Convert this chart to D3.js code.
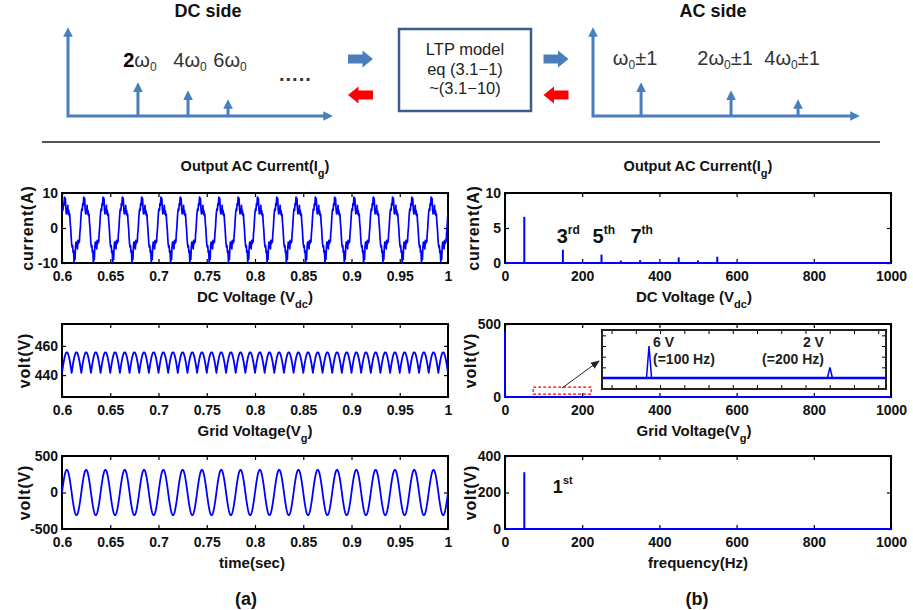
<!DOCTYPE html>
<html>
<head>
<meta charset="utf-8">
<script src="https://cdn.jsdelivr.net/npm/d3@7/dist/d3.min.js"></script>
<style>
  body { margin: 0; background: #fff; }
  svg { font-family: 'Liberation Sans', Arial, sans-serif; }
</style>
</head>
<body>
<script>
// ---------- data ----------
const timeTicks = [0.6, 0.65, 0.7, 0.75, 0.8, 0.85, 0.9, 0.95, 1];
const freqTicks = [0, 200, 400, 600, 800, 1000];

// one 20 ms period of output current Ig (A), samples 0.5 ms apart
const currentCycle = [4.5, 5.5, 5, 7, 6.5, 8.8, 7.5, 8.5, 5.5, 4, 5.5, 4.5, 6.5, 4, 5, 3.5, 4, 1.5, 0, -2.5,
  -4.5, -5.5, -5, -7, -6.5, -9.8, -7.5, -9, -5.5, -4, -5.5, -4, -6, -3.5, -4.5, -3.5, -4, -1.5, 0, 2.5];
// one 10 ms period of DC link voltage (V), samples 0.5 ms apart
const dcCycle = [441.6, 443.8, 445.9, 448, 449.8, 451.5, 452.9, 454.1, 454.9, 455.4,
  455.6, 455.4, 454.9, 454.1, 452.9, 451.5, 449.8, 448, 445.9, 443.8];
// one 20 ms period of grid voltage (V), samples 0.5 ms apart
const gridCycle = [0, 49, 96, 141, 183, 220, 252, 277, 296, 307, 311, 307, 296, 277, 252, 220, 183, 141, 96, 49,
  0, -49, -96, -141, -183, -220, -252, -277, -296, -307, -311, -307, -296, -277, -252, -220, -183, -141, -96, -49];

// spectra (Hz, amplitude)
const currentFreq = [50, 150, 250, 300, 350, 450, 500, 550];
const currentAmp = [6.6, 1.9, 1.2, 0.35, 0.4, 0.8, 0.35, 0.9];
const dcFreq = [0, 50, 100, 200, 350, 500, 550];
const dcAmp = [449, 1, 6, 2, 1, 2, 1];
const gridFreq = [50];
const gridAmp = [311];

// schematic spectra on top (relative position, relative height)
const dcSideLabels = ['2', '4', '6'];
const dcSidePos = [0.264, 0.453, 0.604];
const acSideLabels = ['', '2', '4'];
const acSidePos = [0.18, 0.517, 0.768];
const sideHeights = [0.38, 0.29, 0.19];

// ---------- drawing ----------
const svgWidth = 913, svgHeight = 610;
const blue = '#4a7ebb', lineBlue = '#0000ff';
const svg = d3.select('body').append('svg')
  .attr('width', svgWidth)
  .attr('height', svgHeight);
const defs = svg.append('defs');

function marker(id, color, size, refX) {
  defs.append('marker')
    .attr('id', id)
    .attr('viewBox', '0 0 10 10')
    .attr('refX', refX).attr('refY', 5)
    .attr('markerWidth', size).attr('markerHeight', size)
    .attr('orient', 'auto-start-reverse')
    .append('path')
    .attr('d', 'M0,0L10,5L0,10z')
    .attr('fill', color);
}
marker('headBlue', blue, 3.2, 6);
defs.append('marker')
  .attr('id', 'headBlack')
  .attr('viewBox', '0 0 10 10')
  .attr('refX', 9).attr('refY', 5)
  .attr('markerUnits', 'userSpaceOnUse')
  .attr('markerWidth', 9).attr('markerHeight', 9)
  .attr('orient', 'auto')
  .append('path').attr('d', 'M0,1L10,5L0,9z').attr('fill', '#222');

function sketch(title, titleX, x0, x1, pos, labels, ac) {
  const sx = d3.scaleLinear().domain([0, 1]).range([x0, x1]);
  const sy = d3.scaleLinear().domain([0, 1]).range([116, 27]);
  const g = svg.append('g');

  g.append('text').text(title)
    .attr('x', titleX).attr('y', 17)
    .attr('text-anchor', 'middle')
    .attr('font-size', 18).attr('font-weight', 'bold').attr('fill', '#111');

  g.append('path')
    .attr('d', `M${sx(0)},${sy(1) + 4}L${sx(0)},${sy(0)}L${sx(1) - 4},${sy(0)}`)
    .attr('fill', 'none').attr('stroke', blue).attr('stroke-width', 3)
    .attr('marker-start', 'url(#headBlue)').attr('marker-end', 'url(#headBlue)');

  g.selectAll('line.spike')
    .data(d3.zip(pos, sideHeights))
    .join('line')
    .attr('x1', d => sx(d[0])).attr('x2', d => sx(d[0]))
    .attr('y1', sy(0)).attr('y2', d => sy(d[1]) + 4)
    .attr('stroke', blue).attr('stroke-width', 3)
    .attr('marker-end', 'url(#headBlue)');

  const t = g.selectAll('text.lab')
    .data(d3.zip(pos, labels))
    .join('text')
    .attr('x', d => sx(d[0]) + (ac ? -6 : 2))
    .attr('y', ac ? 65 : 67)
    .attr('text-anchor', 'middle')
    .attr('font-size', 20).attr('fill', '#333');
  t.append('tspan').text(d => d[1]).attr('font-weight', (d, i) => (!ac && i === 0) ? 'bold' : null)
    .attr('fill', (d, i) => (!ac && i === 0) ? '#000' : null);
  t.append('tspan').text('ω');
  t.append('tspan').text('0').attr('font-size', 12).attr('dy', 4);
  if (ac) t.append('tspan').text('±1').attr('dy', -4);
  return g;
}

function fatArrow(cx, cy, dir, color) {
  const pts = [[-12.5, -4.5], [2, -4.5], [2, -8.5], [12.5, 0], [2, 8.5], [2, 4.5], [-12.5, 4.5]];
  svg.append('path')
    .attr('d', d3.line()(pts.map(p => [cx + dir * p[0], cy + p[1]])) + 'Z')
    .attr('fill', color);
}

function topDiagram() {
  sketch('DC side', 208, 68, 333, dcSidePos, dcSideLabels, false);
  sketch('AC side', 713, 593, 860, acSidePos, acSideLabels, true);

  svg.append('text').text('.....')
    .attr('x', 279).attr('y', 81)
    .attr('font-size', 20).attr('font-weight', 'bold').attr('letter-spacing', 1).attr('fill', '#333');

  fatArrow(360.5, 59, 1, blue);
  fatArrow(360.5, 95, -1, '#ff0000');
  fatArrow(556, 59, 1, blue);
  fatArrow(556, 95, -1, '#ff0000');

  svg.append('rect')
    .attr('x', 399).attr('y', 29).attr('width', 132).attr('height', 82)
    .attr('fill', '#fff').attr('stroke', '#385d8a').attr('stroke-width', 2.5);
  svg.selectAll('text.box')
    .data(['LTP model', 'eq (3.1−1)', '~(3.1−10)'])
    .join('text')
    .attr('x', 465).attr('y', (d, i) => 55 + i * 19.5)
    .attr('text-anchor', 'middle')
    .attr('font-size', 16.5).attr('fill', '#222')
    .text(d => d);

  svg.append('line')
    .attr('x1', 42).attr('x2', 880).attr('y1', 142).attr('y2', 142)
    .attr('stroke', '#555').attr('stroke-width', 2);
}

let clipCount = 0;
function panel(o) {
  const x = d3.scaleLinear().domain(o.xDomain).range(o.xRange);
  const y = d3.scaleLinear().domain(o.yDomain).range([o.yRange[1], o.yRange[0]]);
  const g = svg.append('g');
  const clipId = 'clip' + (clipCount++);
  defs.append('clipPath').attr('id', clipId).append('rect')
    .attr('x', o.xRange[0]).attr('y', o.yRange[0])
    .attr('width', o.xRange[1] - o.xRange[0]).attr('height', o.yRange[1] - o.yRange[0]);

  const style = sel => sel
    .attr('font-family', "'Liberation Sans', Arial, sans-serif")
    .attr('font-size', 14).attr('font-weight', 'bold')
    .call(s => s.select('.domain').remove())
    .call(s => s.selectAll('.tick line').attr('stroke', '#000').attr('stroke-width', 1.2))
    .call(s => s.selectAll('.tick text').attr('fill', '#111'));

  g.append('g').attr('transform', `translate(0,${o.yRange[1]})`)
    .call(d3.axisBottom(x).tickValues(o.xTicks).tickFormat(d => String(d))
      .tickSizeInner(-4).tickSizeOuter(0).tickPadding(8))
    .call(style);
  g.append('g').attr('transform', `translate(0,${o.yRange[0]})`)
    .call(d3.axisTop(x).tickValues(o.xTicks).tickFormat('').tickSizeInner(-4).tickSizeOuter(0))
    .call(style);
  g.append('g').attr('transform', `translate(${o.xRange[0]},0)`)
    .call(d3.axisLeft(y).tickValues(o.yTicks).tickFormat(d => String(d))
      .tickSizeInner(-4).tickSizeOuter(0).tickPadding(4))
    .call(style);
  g.append('g').attr('transform', `translate(${o.xRange[1]},0)`)
    .call(d3.axisRight(y).tickValues(o.yTicks).tickFormat('').tickSizeInner(-4).tickSizeOuter(0))
    .call(style);

  g.append('rect')
    .attr('x', o.xRange[0]).attr('y', o.yRange[0])
    .attr('width', o.xRange[1] - o.xRange[0]).attr('height', o.yRange[1] - o.yRange[0])
    .attr('fill', 'none').attr('stroke', '#000').attr('stroke-width', 2);

  const cy = (o.yRange[0] + o.yRange[1]) / 2;
  g.append('text').text(o.yLabel)
    .attr('transform', `translate(${o.yLabelX},${cy}) rotate(-90)`)
    .attr('dy', '0.35em').attr('text-anchor', 'middle')
    .attr('font-size', 16).attr('font-weight', 'bold').attr('letter-spacing', 0.8).attr('fill', '#111');

  const plot = g.append('g').attr('clip-path', `url(#${clipId})`);
  return { x, y, g, plot };
}

function tile(cycle, period, start, count) {
  const dt = period / cycle.length;
  const pts = [];
  for (let p = 0; p < count; p++) {
    cycle.forEach((v, i) => pts.push({ t: start + p * period + i * dt, v }));
  }
  pts.push({ t: start + count * period, v: cycle[0] });
  return pts;
}

function waveform(p, series, width) {
  p.plot.append('path').datum(series)
    .attr('d', d3.line().x(d => p.x(d.t)).y(d => p.y(d.v)))
    .attr('fill', 'none').attr('stroke', lineBlue).attr('stroke-width', width)
    .attr('stroke-linejoin', 'round');
}

function spectrum(p, freq, amp) {
  p.g.append('line')
    .attr('x1', p.x(0)).attr('x2', p.x(1000))
    .attr('y1', p.y(0)).attr('y2', p.y(0))
    .attr('stroke', lineBlue).attr('stroke-width', 2);
  p.g.selectAll('line.spike')
    .data(d3.zip(freq, amp))
    .join('line')
    .attr('x1', d => p.x(d[0])).attr('x2', d => p.x(d[0]))
    .attr('y1', p.y(0)).attr('y2', d => p.y(d[1]))
    .attr('stroke', lineBlue).attr('stroke-width', 2);
}

function label(text, sub, x, y, size, after) {
  const t = svg.append('text')
    .attr('x', x).attr('y', y).attr('text-anchor', 'middle')
    .attr('font-size', size || 15).attr('font-weight', 'bold').attr('fill', '#111')
    .text(text);
  if (sub) {
    t.append('tspan').text(sub).attr('dy', 6).attr('font-size', 11);
    t.append('tspan').text(after || ')').attr('dy', -6);
  }
}

function superLabel(p, base, sup, f, v, size) {
  const t = svg.append('text')
    .attr('x', p.x(f)).attr('y', p.y(v))
    .attr('font-size', size).attr('font-weight', 'bold').attr('fill', '#111')
    .text(base);
  t.append('tspan').text(sup).attr('font-size', size * 0.6).attr('dy', -size * 0.45);
}

function charts() {
  const leftX = [62, 448], rightX = [505, 891];
  const rows = [[193, 263], [324, 397], [456, 529]];

  const cur = panel({ xDomain: [0.6, 1], xRange: leftX, yDomain: [-10, 10], yRange: rows[0],
    xTicks: timeTicks, yTicks: [-10, 0, 10], yLabel: 'current(A)', yLabelX: 27 });
  waveform(cur, tile(currentCycle, 0.02, 0.6, 20), 1.7);

  const dc = panel({ xDomain: [0.6, 1], xRange: leftX, yDomain: [425, 475], yRange: rows[1],
    xTicks: timeTicks, yTicks: [440, 460], yLabel: 'volt(V)', yLabelX: 24 });
  waveform(dc, tile(dcCycle, 0.01, 0.6, 40), 1.8);

  const grid = panel({ xDomain: [0.6, 1], xRange: leftX, yDomain: [-500, 500], yRange: rows[2],
    xTicks: timeTicks, yTicks: [-500, 0, 500], yLabel: 'volt(V)', yLabelX: 24 });
  waveform(grid, tile(gridCycle, 0.02, 0.6, 20), 1.8);

  const curF = panel({ xDomain: [0, 1000], xRange: rightX, yDomain: [0, 10], yRange: rows[0],
    xTicks: freqTicks, yTicks: [0, 5, 10], yLabel: 'current(A)', yLabelX: 473 });
  spectrum(curF, currentFreq, currentAmp);
  superLabel(curF, '3', 'rd', 134, 2.8, 20);
  superLabel(curF, '5', 'th', 227, 2.8, 20);
  superLabel(curF, '7', 'th', 325, 2.8, 20);

  const dcF = panel({ xDomain: [0, 1000], xRange: rightX, yDomain: [0, 500], yRange: rows[1],
    xTicks: freqTicks, yTicks: [0, 500], yLabel: 'volt(V)', yLabelX: 470 });
  spectrum(dcF, dcFreq, dcAmp);

  const gridF = panel({ xDomain: [0, 1000], xRange: rightX, yDomain: [0, 400], yRange: rows[2],
    xTicks: freqTicks, yTicks: [0, 200, 400], yLabel: 'volt(V)', yLabelX: 470 });
  spectrum(gridF, gridFreq, gridAmp);
  superLabel(gridF, '1', 'st', 124, 200, 18);

  // zoomed inset of the DC voltage spectrum
  const xi = d3.scaleLinear().domain([74, 231]).range([602, 886]);
  const yi = d3.scaleLinear().domain([-2.06, 9]).range([389, 330]);
  const inset = svg.append('g');
  inset.append('rect')
    .attr('x', 602).attr('y', 330).attr('width', 284).attr('height', 59)
    .attr('fill', '#fff');
  const insetTicks = d3.range(79.3, 231, 13.4);
  const tickStyle = s => s.call(a => a.select('.domain').remove())
    .call(a => a.selectAll('.tick line').attr('stroke', '#000'));
  inset.append('g').attr('transform', 'translate(0,389)')
    .call(d3.axisBottom(xi).tickValues(insetTicks).tickFormat('').tickSizeInner(-4).tickSizeOuter(0)).call(tickStyle);
  inset.append('g').attr('transform', 'translate(0,330)')
    .call(d3.axisTop(xi).tickValues(insetTicks).tickFormat('').tickSizeInner(-4).tickSizeOuter(0)).call(tickStyle);
  inset.append('g').attr('transform', 'translate(602,0)')
    .call(d3.axisLeft(yi).tickValues([-2, 0, 2, 4, 6, 8]).tickFormat('').tickSizeInner(-4).tickSizeOuter(0)).call(tickStyle);
  inset.append('g').attr('transform', 'translate(886,0)')
    .call(d3.axisRight(yi).tickValues([-2, 0, 2, 4, 6, 8]).tickFormat('').tickSizeInner(-4).tickSizeOuter(0)).call(tickStyle);
  inset.append('line')
    .attr('x1', xi(74)).attr('x2', xi(231)).attr('y1', yi(0)).attr('y2', yi(0))
    .attr('stroke', lineBlue).attr('stroke-width', 2.5);
  const insetPeaks = d3.zip(dcFreq, dcAmp).filter(d => d[0] > 74 && d[0] < 231);
  inset.selectAll('path.peak')
    .data(insetPeaks)
    .join('path')
    .attr('d', d => `M${xi(d[0] - 1.4)},${yi(0)}L${xi(d[0])},${yi(d[1])}L${xi(d[0] + 1.4)},${yi(0)}`)
    .attr('fill', 'none').attr('stroke', lineBlue).attr('stroke-width', 1.5);
  inset.append('rect')
    .attr('x', 602).attr('y', 330).attr('width', 284).attr('height', 59)
    .attr('fill', 'none').attr('stroke', '#222').attr('stroke-width', 2);
  inset.selectAll('text.peak')
    .data(insetPeaks)
    .join('text')
    .attr('x', d => d[0] < 150 ? xi(d[0]) + 4 : xi(d[0]) - 6)
    .attr('text-anchor', d => d[0] < 150 ? 'start' : 'end')
    .attr('y', 347)
    .attr('font-size', 14).attr('font-weight', 'bold').attr('fill', '#222')
    .call(t => t.append('tspan').text(d => d[1] + ' V'))
    .call(t => t.append('tspan').text(d => '(=' + d[0] + ' Hz)')
      .attr('x', d => d[0] < 150 ? xi(d[0]) + 4 : xi(d[0]) - 6).attr('dy', 17));

  svg.append('rect')
    .attr('x', dcF.x(73)).attr('y', dcF.y(68))
    .attr('width', dcF.x(223) - dcF.x(73)).attr('height', dcF.y(20) - dcF.y(68))
    .attr('fill', 'none').attr('stroke', '#ff0000').attr('stroke-width', 1.2)
    .attr('stroke-dasharray', '3,2');
  svg.append('line')
    .attr('x1', dcF.x(148)).attr('y1', dcF.y(62))
    .attr('x2', xi(74) - 3).attr('y2', yi(3.2))
    .attr('stroke', '#222').attr('stroke-width', 1)
    .attr('marker-end', 'url(#headBlack)');

  // titles and axis names
  const lc = 255, rc = 698;
  label('Output AC Current(I', 'g', lc, 171, 14.5);
  label('Output AC Current(I', 'g', rc, 171, 14.5);
  label('DC Voltage (V', 'dc', lc, 302);
  label('DC Voltage (V', 'dc', rc - 4, 302);
  label('Grid Voltage(V', 'g', lc, 436);
  label('Grid Voltage(V', 'g', rc - 4, 436);
  label('time(sec)', null, lc - 3, 568);
  label('frequency(Hz)', null, rc, 568);
  label('(a)', null, 246, 605, 18);
  label('(b)', null, 697, 605, 18);
}

topDiagram();
charts();
</script>
</body>
</html>
